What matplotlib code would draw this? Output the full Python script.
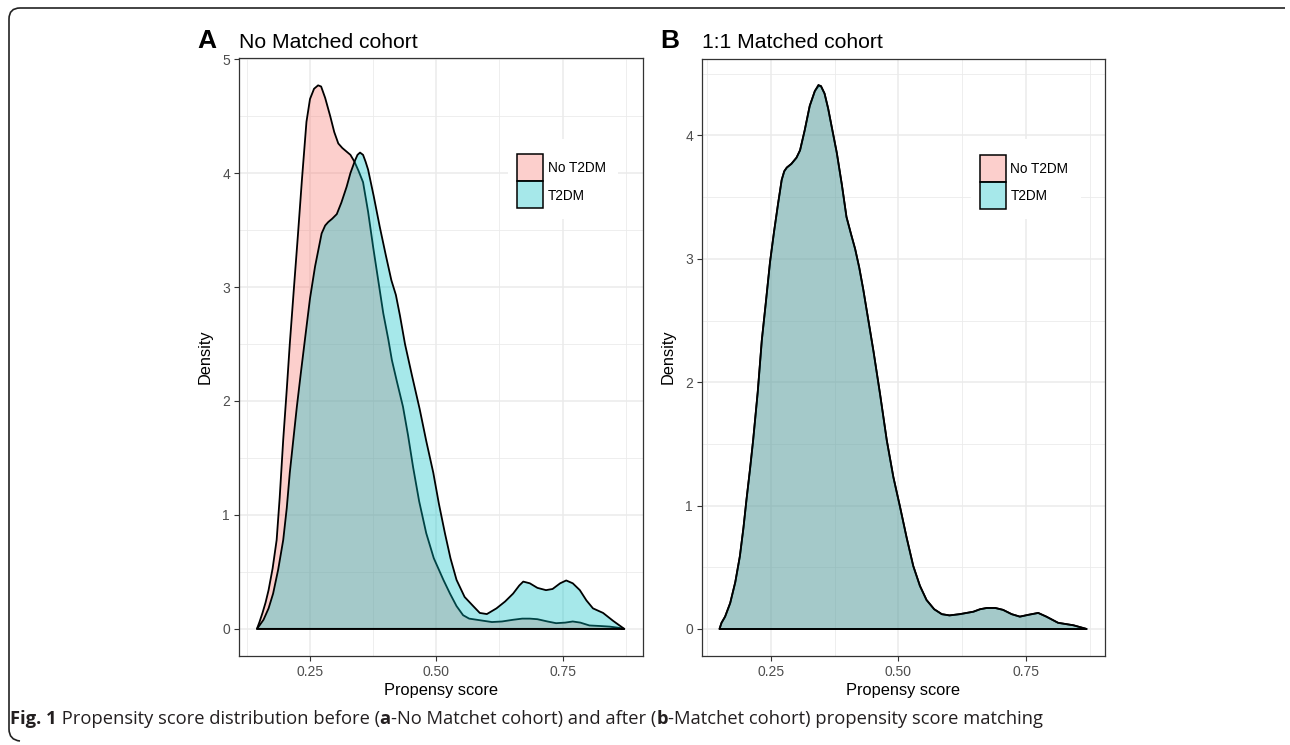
import matplotlib
matplotlib.use("Agg")
import matplotlib.pyplot as plt
from matplotlib.patches import PathPatch, Rectangle
from matplotlib.path import Path
from matplotlib.ticker import FixedLocator
from matplotlib import font_manager

# ---------------- data ----------------
groups = ["No T2DM", "T2DM"]
xticks = [0.25, 0.50, 0.75]
xticklabels = ["0.25", "0.50", "0.75"]

# Panel A: No matched cohort
a_no_x = [0.145, 0.150, 0.156, 0.162, 0.168, 0.176, 0.184, 0.190, 0.197, 0.204, 0.210, 0.218,
          0.226, 0.234, 0.243, 0.250, 0.258, 0.266, 0.272, 0.280, 0.290, 0.298, 0.306, 0.314,
          0.322, 0.330, 0.338, 0.346, 0.355, 0.365, 0.375, 0.385, 0.395, 0.405, 0.412, 0.422,
          0.434, 0.444, 0.454, 0.466, 0.480, 0.495, 0.514, 0.527, 0.540, 0.553, 0.565, 0.580,
          0.595, 0.610, 0.630, 0.652, 0.670, 0.685, 0.700, 0.720, 0.737, 0.755, 0.770, 0.785,
          0.803, 0.825, 0.843, 0.860, 0.872]
a_no_y = [0.00, 0.06, 0.14, 0.23, 0.34, 0.53, 0.78, 1.15, 1.66, 2.10, 2.50, 2.98,
          3.45, 3.94, 4.45, 4.65, 4.74, 4.77, 4.76, 4.66, 4.50, 4.36, 4.26, 4.22,
          4.19, 4.16, 4.10, 4.02, 3.92, 3.66, 3.35, 3.06, 2.77, 2.54, 2.36, 2.17,
          1.95, 1.70, 1.42, 1.12, 0.84, 0.62, 0.43, 0.31, 0.20, 0.12, 0.09, 0.08,
          0.07, 0.06, 0.065, 0.08, 0.09, 0.09, 0.085, 0.065, 0.05, 0.055, 0.065, 0.055,
          0.03, 0.025, 0.02, 0.01, 0.00]

a_t2_x = [0.145, 0.150, 0.158, 0.168, 0.177, 0.187, 0.197, 0.204, 0.210, 0.217, 0.224, 0.232,
          0.240, 0.250, 0.260, 0.273, 0.280, 0.286, 0.294, 0.303, 0.312, 0.3225, 0.330, 0.339,
          0.344, 0.349, 0.355, 0.360, 0.365, 0.376, 0.388, 0.400, 0.411, 0.420, 0.428, 0.438,
          0.452, 0.467, 0.480, 0.494, 0.505, 0.517, 0.528, 0.540, 0.556, 0.573, 0.586, 0.600,
          0.619, 0.636, 0.652, 0.664, 0.672, 0.685, 0.700, 0.717, 0.730, 0.745, 0.757, 0.770,
          0.784, 0.797, 0.810, 0.830, 0.850, 0.872]
a_t2_y = [0.00, 0.03, 0.08, 0.18, 0.31, 0.52, 0.78, 1.06, 1.37, 1.66, 1.95, 2.25,
          2.54, 2.90, 3.18, 3.47, 3.54, 3.57, 3.60, 3.64, 3.74, 3.88, 4.00, 4.11,
          4.16, 4.18, 4.16, 4.10, 4.03, 3.80, 3.53, 3.28, 3.06, 2.93, 2.75, 2.50,
          2.22, 1.93, 1.65, 1.37, 1.10, 0.84, 0.62, 0.43, 0.28, 0.20, 0.14, 0.13,
          0.18, 0.24, 0.31, 0.38, 0.415, 0.40, 0.36, 0.34, 0.35, 0.40, 0.425, 0.40,
          0.34, 0.25, 0.18, 0.14, 0.07, 0.00]

# Panel B: 1:1 matched cohort (both groups almost coincide)
b_x = [0.149, 0.153, 0.160, 0.170, 0.180, 0.189, 0.196, 0.202, 0.209, 0.215, 0.224, 0.232,
       0.240, 0.248, 0.256, 0.264, 0.271, 0.276, 0.281, 0.290, 0.300, 0.307, 0.316, 0.326,
       0.336, 0.343, 0.348, 0.355, 0.362, 0.370, 0.379, 0.389, 0.398, 0.407, 0.415, 0.423,
       0.431, 0.441, 0.451, 0.464, 0.477, 0.490, 0.503, 0.516, 0.529, 0.542, 0.555, 0.570,
       0.585, 0.600, 0.620, 0.647, 0.660, 0.673, 0.690, 0.705, 0.722, 0.738, 0.755, 0.774,
       0.790, 0.813, 0.843, 0.869]
b_no_y = [0.00, 0.05, 0.10, 0.21, 0.38, 0.59, 0.82, 1.05, 1.30, 1.53, 1.92, 2.34,
          2.65, 2.97, 3.22, 3.45, 3.64, 3.71, 3.74, 3.77, 3.82, 3.88, 4.04, 4.24,
          4.36, 4.40, 4.40, 4.34, 4.22, 4.05, 3.86, 3.60, 3.34, 3.20, 3.08, 2.93,
          2.75, 2.50, 2.25, 1.90, 1.53, 1.23, 0.99, 0.74, 0.51, 0.35, 0.235, 0.16,
          0.12, 0.11, 0.12, 0.14, 0.16, 0.17, 0.17, 0.155, 0.12, 0.10, 0.115, 0.13,
          0.10, 0.05, 0.03, 0.00]
b_t2_y = [0.00, 0.05, 0.10, 0.21, 0.38, 0.59, 0.82, 1.05, 1.30, 1.53, 1.92, 2.34,
          2.65, 2.97, 3.22, 3.45, 3.64, 3.71, 3.74, 3.77, 3.82, 3.88, 4.04, 4.24,
          4.36, 4.41, 4.40, 4.34, 4.22, 4.05, 3.86, 3.60, 3.34, 3.20, 3.08, 2.93,
          2.75, 2.50, 2.25, 1.90, 1.53, 1.23, 0.99, 0.74, 0.51, 0.35, 0.235, 0.16,
          0.12, 0.11, 0.12, 0.14, 0.16, 0.17, 0.17, 0.155, 0.12, 0.10, 0.115, 0.13,
          0.10, 0.05, 0.03, 0.00]

caption_parts = [("Fig. 1", "bold"),
                 (" Propensity score distribution before (", "normal"),
                 ("a", "bold"),
                 ("-No Matchet cohort) and after (", "normal"),
                 ("b", "bold"),
                 ("-Matchet cohort) propensity score matching", "normal")]

# ---------------- style ----------------
FONT = "Liberation Sans"
plt.rcParams["font.family"] = [FONT, "DejaVu Sans"]
PINK = (248/255, 118/255, 109/255, 0.35)
TEAL = (0/255, 191/255, 196/255, 0.35)
GRID = "#EBEBEB"
SPINE = "#333333"
TICKLAB = "#4D4D4D"

W, H = 1290, 745
fig = plt.figure(figsize=(W/100, H/100), dpi=100)


def fx(px):
    return px / W


def fy(py):
    return 1 - py / H


def add_axes(l, t, r, b):
    return fig.add_axes([fx(l), fy(b), (r - l) / W, (b - t) / H])


def density(ax, xs, ys, color):
    ax.fill(xs, ys, facecolor=color, edgecolor="black", linewidth=1.3,
            joinstyle="round", zorder=3)


def style(ax, xlim, ylim, yticks):
    ax.set_xlim(*xlim)
    ax.set_ylim(*ylim)
    ax.set_facecolor("white")
    ax.xaxis.set_major_locator(FixedLocator(xticks))
    ax.set_xticklabels(xticklabels)
    ax.yaxis.set_major_locator(FixedLocator(yticks))
    ax.set_yticklabels([str(v) for v in yticks])
    ax.xaxis.set_minor_locator(FixedLocator([0.125, 0.375, 0.625, 0.875]))
    ax.yaxis.set_minor_locator(FixedLocator([v + 0.5 for v in range(0, 5)]))
    ax.grid(which="major", color=GRID, linewidth=1.1, zorder=0)
    ax.grid(which="minor", color=GRID, linewidth=0.6, zorder=0)
    ax.set_axisbelow(True)
    for s in ax.spines.values():
        s.set_color(SPINE)
        s.set_linewidth(0.9)
    ax.tick_params(which="major", length=3.5, width=0.8, color=SPINE,
                   labelcolor=TICKLAB, labelsize=10, pad=3)
    ax.tick_params(which="minor", length=0)


def rect_px(l, t, w, h, **kw):
    fig.add_artist(Rectangle((fx(l), fy(t + h)), w / W, h / H,
                             transform=fig.transFigure, **kw))


def legend(bx, by):
    # bx, by: pixel position of the top-left corner of the first key
    rect_px(bx - 9, by - 16, 110, 80, facecolor="white", edgecolor="none", zorder=5)
    for i, (lab, col) in enumerate(zip(groups, [PINK, TEAL])):
        top = by + i * 27
        rect_px(bx, top, 26, 26.5, facecolor=col, edgecolor="black", linewidth=1.1,
                zorder=6)
        fig.text(fx(bx + 31), fy(top + 14), lab, fontsize=9.8, ha="left", va="center",
                 zorder=7)


# Panel A
axA = add_axes(239, 58, 643, 656)
density(axA, a_no_x, a_no_y, PINK)
density(axA, a_t2_x, a_t2_y, TEAL)
style(axA, (0.1095, 0.909), (-0.238, 5.01), [0, 1, 2, 3, 4, 5])
legend(517, 154.5)

# Panel B
axB = add_axes(702, 59, 1105, 656)
density(axB, b_x, b_no_y, PINK)
density(axB, b_x, b_t2_y, TEAL)
style(axB, (0.1147, 0.905), (-0.219, 4.62), [0, 1, 2, 3, 4])
legend(979.5, 155)

# titles and axis titles
fig.text(fx(197), fy(47.5), "A", fontsize=19, fontweight="bold", va="baseline", ha="left")
fig.text(fx(239), fy(47.5), "No Matched cohort", fontsize=15.2, va="baseline", ha="left")
fig.text(fx(660), fy(48.3), "B", fontsize=19, fontweight="bold", va="baseline", ha="left")
fig.text(fx(702), fy(48.3), "1:1 Matched cohort", fontsize=15.2, va="baseline", ha="left")

for cx in (441, 903.5):
    fig.text(fx(cx), fy(690.5), "Propensy score", fontsize=11.8, ha="center", va="center")
for cx in (205, 668):
    fig.text(fx(cx), fy(357), "Density", fontsize=11.8, ha="center", va="center", rotation=90)

# caption
cap_font = "Open Sans"
for cand in ["Liberation Sans Narrow", "Open Sans"]:
    try:
        font_manager.findfont(font_manager.FontProperties(family=cand), fallback_to_default=False)
        cap_font = cand
        break
    except Exception:
        continue

renderer = fig.canvas.get_renderer()
size = 12.0
texts = [fig.text(0, fy(724), s, fontsize=size, fontweight=wt, family=cap_font,
                  va="baseline", ha="left", color="#231F20")
         for s, wt in caption_parts]
target = 1040 - 10
for _ in range(3):
    total = sum(t.get_window_extent(renderer).width for t in texts)
    size = size * target / total
    for t in texts:
        t.set_fontsize(size)
x = 10
for t in texts:
    t.set_x(fx(x))
    x += t.get_window_extent(renderer).width

# frame (top and left border with rounded corners)
r = 11
verts = [(W - 5, 8), (9 + r, 8), (9, 8), (9, 8 + r), (9, 740 - r), (9, 740), (9 + r, 741)]
codes = [Path.MOVETO, Path.LINETO, Path.CURVE3, Path.CURVE3, Path.LINETO, Path.CURVE3, Path.CURVE3]
verts_f = [(fx(a), fy(b)) for a, b in verts]
fig.add_artist(PathPatch(Path(verts_f, codes), transform=fig.transFigure, fill=False,
                         edgecolor="#222222", linewidth=1.2))

fig.savefig("out.png", dpi=100, facecolor="white")
